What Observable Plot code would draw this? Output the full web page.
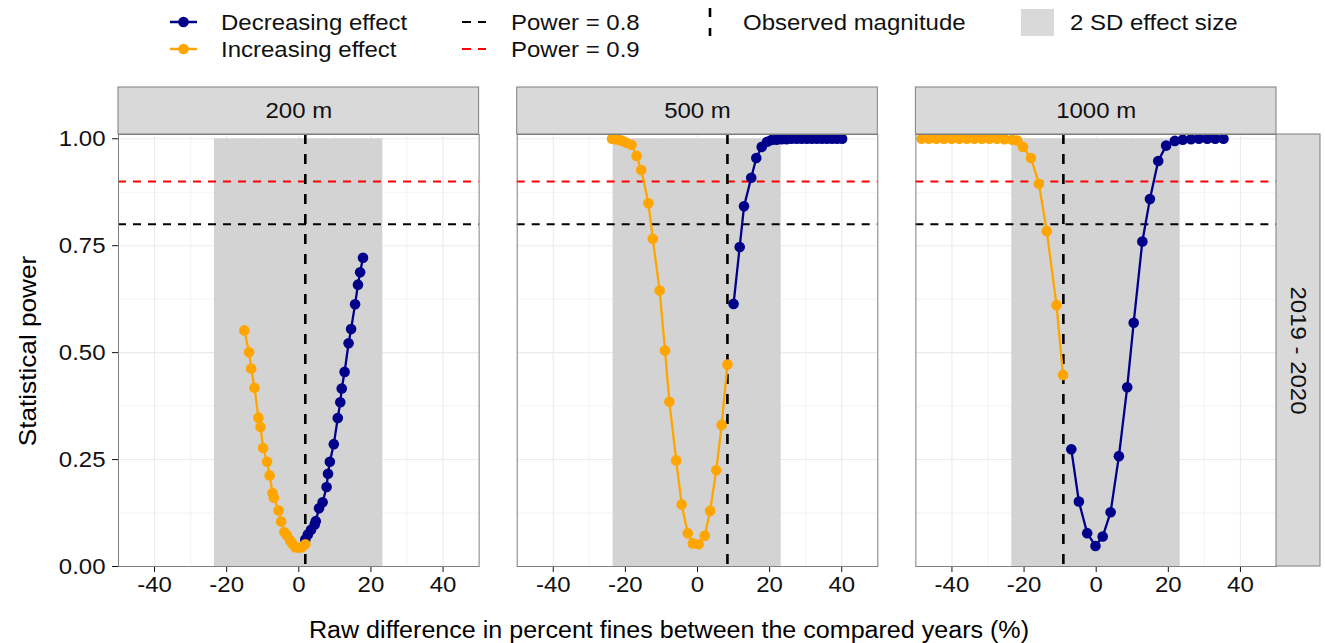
<!DOCTYPE html>
<html>
<head>
<meta charset="utf-8">
<script src="https://cdn.jsdelivr.net/npm/d3@7"></script>
<script src="https://cdn.jsdelivr.net/npm/@observablehq/plot@0.6"></script>
<style>
  html, body { margin: 0; padding: 0; background: #fff; }
  svg { display: block; }
  #wrap { width: 1325px; font-family: "Liberation Sans", Arial, sans-serif; }
</style>
</head>
<body>
<div id="wrap">
  <div id="legend"></div>
  <div id="chart"></div>
</div>
<script>
// ---------------- DATA ----------------
const panels = ["200 m", "500 m", "1000 m"];
const period = "2019 - 2020";

// 200 m
const inc200X = [-15.1,-13.8,-13.2,-12.3,-11.2,-10.6,-9.9,-8.8,-8.1,-7.3,-6.9,-5.6,-4.9,-4.0,-3.3,-2.4,-1.8,-1.0,-0.1,0.8,1.8];
const inc200Y = [0.552,0.501,0.463,0.418,0.348,0.326,0.277,0.245,0.213,0.172,0.161,0.131,0.105,0.080,0.073,0.061,0.053,0.045,0.044,0.045,0.052];
const dec200X = [1.8,2.5,3.4,4.4,4.7,5.6,6.6,7.7,8.1,8.6,9.7,10.8,11.5,11.9,12.7,13.8,14.5,15.6,16.4,17.0,17.8];
const dec200Y = [0.063,0.075,0.086,0.098,0.106,0.136,0.150,0.186,0.217,0.245,0.286,0.347,0.384,0.416,0.455,0.522,0.555,0.613,0.659,0.688,0.722];

// 500 m
const inc500X = [-23.7,-22.8,-21.9,-20.9,-19.8,-18.3,-16.9,-15.6,-13.6,-12.4,-10.5,-9.0,-7.8,-5.9,-4.4,-2.7,-1.3,0.3,2.0,3.5,5.2,6.7,8.3];
const inc500Y = [1.0,0.999,0.998,0.995,0.991,0.986,0.960,0.927,0.849,0.766,0.645,0.505,0.385,0.248,0.145,0.078,0.054,0.052,0.072,0.130,0.225,0.331,0.472];
const dec500X = [10.0,11.7,12.9,14.9,16.3,17.8,19.3,20.5,21.9,23.3,24.7,26.1,27.5,28.9,30.3,31.7,33.1,34.5,35.9,37.3,38.7,40.1];
const dec500Y = [0.614,0.747,0.842,0.909,0.955,0.981,0.993,0.997,0.998,0.999,0.999,1,1,1,1,1,1,1,1,1,1,1];

// 1000 m
const inc1000X = [-48.4,-46.4,-44.3,-42.2,-40.1,-38.0,-35.9,-33.8,-31.7,-29.6,-27.5,-25.4,-23.3,-21.9,-20.3,-18.1,-15.9,-13.7,-11.0,-9.2];
const inc1000Y = [1,1,1,1,1,1,1,1,1,1,1,0.999,0.998,0.996,0.981,0.955,0.895,0.784,0.611,0.448];
const dec1000X = [-6.9,-4.8,-2.5,-0.2,1.8,4.0,6.3,8.6,10.4,12.8,14.9,17.2,19.4,21.8,24.0,26.3,28.5,30.8,33.0,35.3];
const dec1000Y = [0.274,0.152,0.078,0.048,0.070,0.127,0.258,0.419,0.570,0.760,0.859,0.948,0.984,0.995,0.998,0.999,1,1,1,1];

const observed = [1.8, 8.3, -9.1];
const sdLow  = [-23.4, -23.4, -23.4];
const sdHigh = [23.3, 23.2, 23.3];
const powerLevels = [0.8, 0.9];
const powerColors = ["black", "red"];

const effects = ["Decreasing effect", "Increasing effect"];
const effectColors = ["#00008B", "#FFA500"];

const xTicks = [-40, -20, 0, 20, 40];
const xMinor = [-30, -10, 10, 30];
const yTicks = [0, 0.25, 0.5, 0.75, 1];
const yMinor = [0.125, 0.375, 0.625, 0.875];

// ---------------- TABLES ----------------
const seriesDefs = [
  [panels[0], effects[1], inc200X, inc200Y], [panels[0], effects[0], dec200X, dec200Y],
  [panels[1], effects[1], inc500X, inc500Y], [panels[1], effects[0], dec500X, dec500Y],
  [panels[2], effects[1], inc1000X, inc1000Y], [panels[2], effects[0], dec1000X, dec1000Y]
];
const rows = seriesDefs.flatMap(([panel, effect, xs, ys]) =>
  xs.map((x, i) => ({panel, effect, x, y: ys[i]})));
const panelRows = panels.map((panel, i) => ({panel, obs: observed[i], lo: sdLow[i], hi: sdHigh[i]}));
const powerRows = powerLevels.map((p, i) => ({p, c: powerColors[i]}));

// ---------------- LAYOUT ----------------
const W = 1325, H = 573;
const mT = 64, mB = 77, mL = 118, mR = 49;
const xDom = [-50, 50], yDom = [0, 1.01];
const facetPad = 38 / 398;
const bandW = (W - mL - mR) / (3 - facetPad) * (1 - facetPad);
const xPerPx = (xDom[1] - xDom[0]) / bandW;
const yPerPx = (yDom[1] - yDom[0]) / (H - mT - mB);
const stripPx = 47, rStripPx = 44;
const stripTop = yDom[1] + stripPx * yPerPx;
const stripMid = yDom[1] + stripPx / 2 * yPerPx;
const rStripRight = xDom[1] + rStripPx * xPerPx;
const rStripMid = xDom[1] + rStripPx / 2 * xPerPx;
const colorOf = e => effectColors[effects.indexOf(e)];
const border = "#7f7f7f";
const FS = 22;
const TXT = "#111";

const chart = Plot.plot({
  width: W, height: H,
  marginTop: mT, marginBottom: mB, marginLeft: mL, marginRight: mR,
  style: {fontFamily: "'Liberation Sans', Arial, sans-serif", fontSize: FS + "px", color: TXT, background: "white"},
  fx: {domain: panels, paddingInner: facetPad, paddingOuter: 0, axis: null, label: null, round: false},
  x: {domain: xDom, ticks: xTicks, tickFormat: d => String(d), tickSize: 6, tickPadding: 4, label: null},
  y: {domain: yDom, ticks: yTicks, tickFormat: d => d.toFixed(2), tickSize: 6, tickPadding: 7, label: null},
  marks: [
    Plot.ruleX(xMinor, {stroke: "#ebebeb", strokeWidth: 0.6}),
    Plot.ruleY(yMinor, {stroke: "#ebebeb", strokeWidth: 0.6}),
    Plot.ruleX(xTicks, {stroke: "#ebebeb", strokeWidth: 1.1}),
    Plot.ruleY(yTicks, {stroke: "#ebebeb", strokeWidth: 1.1}),
    Plot.rect(panelRows, {fx: "panel", x1: "lo", x2: "hi", y1: () => 0, y2: () => 1, fill: "#d3d3d3"}),
    Plot.ruleY(powerRows.filter(d => d.c === "black"), {y: "p", stroke: "black", strokeWidth: 2, strokeDasharray: "8,7"}),
    Plot.ruleY(powerRows.filter(d => d.c === "red"), {y: "p", stroke: "red", strokeWidth: 2, strokeDasharray: "8,7"}),
    Plot.ruleX(panelRows, {fx: "panel", x: "obs", stroke: "black", strokeWidth: 2.6, strokeDasharray: "10,10"}),
    ...effects.map(e => Plot.line(rows.filter(d => d.effect === e), {fx: "panel", x: "x", y: "y", stroke: colorOf(e), strokeWidth: 2.3})),
    ...effects.map(e => Plot.dot(rows.filter(d => d.effect === e), {fx: "panel", x: "x", y: "y", fill: colorOf(e), r: 5.3, stroke: "none"})),
    Plot.frame({stroke: border, strokeWidth: 1}),
    // top strips
    Plot.rect(panelRows, {fx: "panel", x1: () => xDom[0], x2: () => xDom[1], y1: () => yDom[1], y2: () => stripTop, fill: "#d9d9d9", stroke: border, strokeWidth: 1}),
    Plot.text(panelRows, {fx: "panel", x: () => 0, y: () => stripMid, text: "panel", fill: TXT, fontSize: FS}),
    // right strip
    Plot.rect([panelRows[2]], {fx: "panel", x1: () => xDom[1], x2: () => rStripRight, y1: () => yDom[0], y2: () => yDom[1], fill: "#d9d9d9", stroke: border, strokeWidth: 1}),
    Plot.text([panelRows[2]], {fx: "panel", x: () => rStripMid, y: () => (yDom[0] + yDom[1]) / 2, text: () => period, rotate: 90, fill: TXT, fontSize: FS})
  ]
});
document.getElementById("chart").append(chart);

const sel = d3.select(chart);
sel.selectAll('[aria-label$="axis tick"]').attr("stroke", border);
sel.selectAll('.tick line').attr("stroke", border);

// axis titles
sel.append("text")
  .attr("x", 669).attr("y", 560).attr("dy", "0.35em")
  .attr("text-anchor", "middle")
  .attr("font-size", 23).attr("fill", "black")
  .text("Raw difference in percent fines between the compared years (%)");
sel.append("text")
  .attr("transform", "translate(28,281) rotate(-90)")
  .attr("dy", "0.35em")
  .attr("text-anchor", "middle")
  .attr("font-size", 24).attr("fill", "black")
  .text("Statistical power");

// ---------------- LEGEND ----------------
const lg = d3.select("#legend").append("svg")
  .attr("width", W).attr("height", 70)
  .style("font-family", "'Liberation Sans', Arial, sans-serif")
  .style("font-size", FS + "px")
  .style("fill", TXT);
const rowY = [22, 49];
effects.forEach((e, i) => {
  const y = rowY[i];
  lg.append("line").attr("x1", 170).attr("x2", 197).attr("y1", y).attr("y2", y)
    .attr("stroke", effectColors[i]).attr("stroke-width", 2.5);
  lg.append("circle").attr("cx", 183.5).attr("cy", y).attr("r", 5.3).attr("fill", effectColors[i]);
  lg.append("text").attr("x", 221).attr("y", y).attr("dy", "0.35em").text(e);
});
powerLevels.forEach((p, i) => {
  const y = rowY[i];
  lg.append("line").attr("x1", 462).attr("x2", 486).attr("y1", y).attr("y2", y)
    .attr("stroke", powerColors[i]).attr("stroke-width", 2).attr("stroke-dasharray", "9,7");
  lg.append("text").attr("x", 511).attr("y", y).attr("dy", "0.35em").text("Power = " + p);
});
lg.append("line").attr("x1", 710).attr("x2", 710).attr("y1", 8).attr("y2", 36)
  .attr("stroke", "black").attr("stroke-width", 2.6).attr("stroke-dasharray", "9,11");
lg.append("text").attr("x", 743).attr("y", rowY[0]).attr("dy", "0.35em").text("Observed magnitude");
lg.append("rect").attr("x", 1021).attr("y", 9).attr("width", 33).attr("height", 27).attr("fill", "#d9d9d9");
lg.append("text").attr("x", 1070).attr("y", rowY[0]).attr("dy", "0.35em").text("2 SD effect size");

// widen glyphs to match the reference's wide sans face
const K = 1.09;
[lg.node(), chart].forEach(s => {
  s.querySelectorAll("text").forEach(t => {
    if (t.querySelector("tspan")) return;
    const L = t.getComputedTextLength();
    if (L > 0) {
      t.setAttribute("textLength", (L * K).toFixed(2));
      t.setAttribute("lengthAdjust", "spacingAndGlyphs");
    }
  });
});
</script>
</body>
</html>
